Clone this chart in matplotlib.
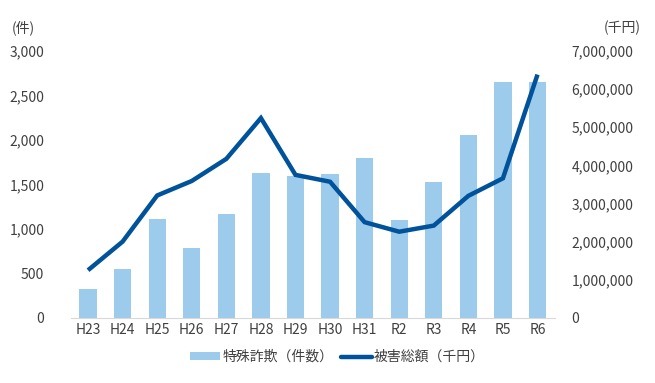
import numpy as np
import matplotlib.pyplot as plt
from matplotlib.lines import Line2D
from matplotlib.patches import Patch
from matplotlib.ticker import FuncFormatter

plt.rcParams['font.family'] = ['Noto Sans CJK JP', 'DejaVu Sans']

years = ['H23', 'H24', 'H25', 'H26', 'H27', 'H28', 'H29', 'H30', 'H31',
         'R2', 'R3', 'R4', 'R5', 'R6']
cases = [329, 550, 1109, 790, 1165, 1626, 1592, 1618, 1801,
         1104, 1531, 2056, 2648, 2650]
damage = [1250000, 2000000, 3210000, 3590000, 4170000, 5240000, 3750000,
          3570000, 2510000, 2260000, 2420000, 3200000, 3660000, 6380000]

bar_color = '#9ccbec'
line_color = '#00529b'
text_color = '#404040'

fig = plt.figure(figsize=(6.55, 3.83), dpi=100)
ax = fig.add_axes([0.108, 0.170, 0.739, 0.697])
ax2 = ax.twinx()

x = np.arange(len(years))
ax.bar(x, cases, width=0.5, color=bar_color, zorder=2)
ax2.plot(x, damage, color=line_color, linewidth=3.2, solid_capstyle='butt',
         solid_joinstyle='miter', zorder=3)

ax.set_xlim(-0.5, len(years) - 0.5)
ax.set_ylim(0, 3000)
ax.set_yticks(np.arange(0, 3001, 500))
ax2.set_ylim(0, 7000000)
ax2.set_yticks(np.arange(0, 7000001, 1000000))
fmt = FuncFormatter(lambda v, p: f'{int(v):,}')
ax.yaxis.set_major_formatter(fmt)
ax2.yaxis.set_major_formatter(fmt)

ax.set_xticks(x)
ax.set_xticklabels(years)

for a in (ax, ax2):
    for s in a.spines.values():
        s.set_visible(False)
    a.tick_params(length=0, labelsize=10, colors=text_color)
ax.spines['bottom'].set_visible(True)
ax.spines['bottom'].set_color('#d9d9d9')
ax.tick_params(axis='y', pad=19)
ax.tick_params(axis='x', pad=4)
ax2.tick_params(axis='y', pad=12)

fig.text(0.018, 0.915, '(件)', fontsize=10, color=text_color)
fig.text(0.978, 0.915, '(千円)', fontsize=10, color=text_color, ha='right')

handles = [Patch(facecolor=bar_color, edgecolor='none'),
           Line2D([0], [0], color=line_color, linewidth=3.2, solid_capstyle='round')]
labels = ['特殊詐欺（件数）', '被害総額（千円）']
fig.legend(handles, labels, loc='center', bbox_to_anchor=(0.515, 0.068), ncol=2,
           frameon=False, fontsize=10, handlelength=2.2, handleheight=0.45,
           handletextpad=0.15, columnspacing=0.6, labelcolor=text_color)

fig.savefig('out.png', dpi=100)
